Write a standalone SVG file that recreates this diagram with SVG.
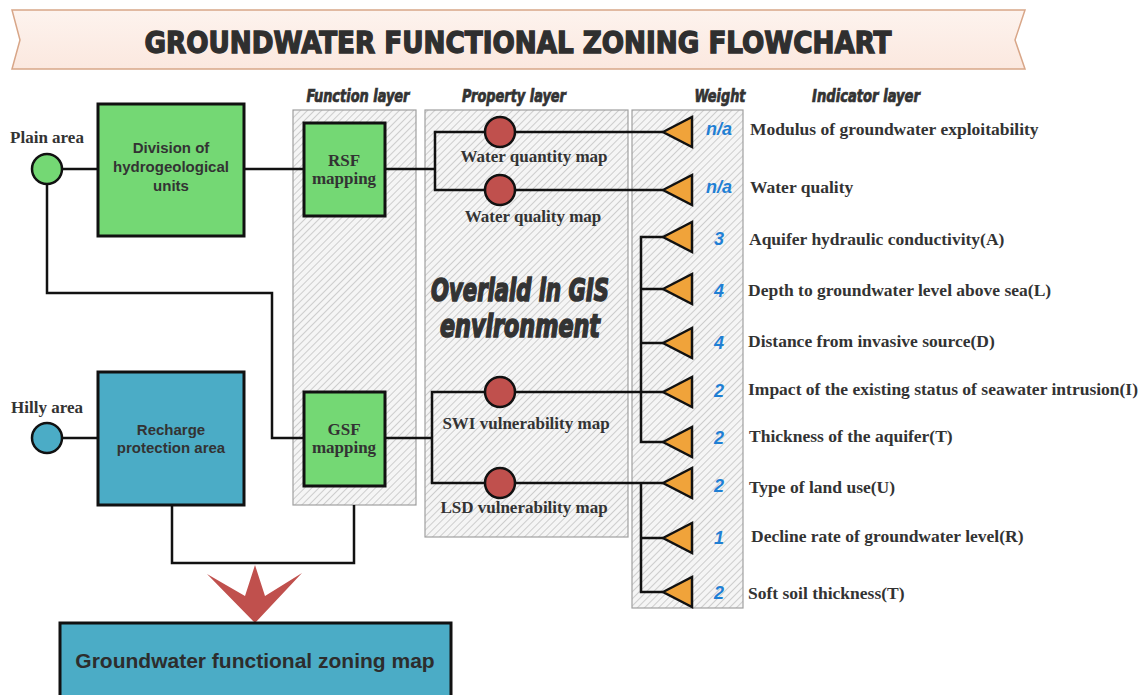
<svg xmlns="http://www.w3.org/2000/svg" width="1143" height="695" viewBox="0 0 1143 695">
<defs>
  <pattern id="hatch" width="5" height="5" patternUnits="userSpaceOnUse" patternTransform="rotate(45)">
    <rect width="5" height="5" fill="#f5f5f5"/>
    <line x1="0" y1="0" x2="0" y2="5" stroke="#a6a6a6" stroke-width="1"/>
  </pattern>
  <linearGradient id="ban" x1="0" y1="0" x2="0" y2="1">
    <stop offset="0" stop-color="#fdf3ee"/>
    <stop offset="1" stop-color="#fbe8df"/>
  </linearGradient>
</defs>
<style>
  .hatchbox{fill:url(#hatch);stroke:#a0a0a0;stroke-width:1.2}
  .box{stroke:#111;stroke-width:3}
  .green{fill:#74d874}
  .blue{fill:#4bacc6}
  .red{fill:#c0504d;stroke:#111;stroke-width:2.5}
  .tri{fill:#f0a33a;stroke:#111;stroke-width:2.5;stroke-linejoin:miter}
  .ln{fill:none;stroke:#111;stroke-width:2.5}
  .hdr{font-family:"DejaVu Sans Condensed","Liberation Sans",sans-serif;font-weight:bold;font-style:italic;font-size:17px;fill:#333;stroke:#333;stroke-width:0.7}
  .ser{font-family:"Liberation Serif",serif;font-weight:bold;font-size:17px;fill:#333}
  .ind{font-size:17.5px}
  .sans{font-family:"Liberation Sans",Arial,sans-serif;font-weight:bold;font-size:15px;fill:#333}
  .wt{font-family:"Liberation Sans",Arial,sans-serif;font-weight:bold;font-style:italic;font-size:18px;fill:#1f7fd4}
  .big{font-family:"DejaVu Sans Condensed","Liberation Sans",sans-serif;font-weight:900;font-style:italic;font-size:32px;fill:#333;stroke:#333;stroke-width:1.6}
</style>

<g id="title">
  <path d="M12,10 L1025,10 L1015,40 L1025,69 L12,69 L20,40 Z" fill="url(#ban)" stroke="#d8a688" stroke-width="1.5"/>
  <text x="518" y="53" text-anchor="middle" font-family="'DejaVu Sans Condensed','Liberation Sans',sans-serif" font-weight="900" font-size="30" fill="#2f2f2f" stroke="#2f2f2f" stroke-width="1.3" textLength="747" lengthAdjust="spacingAndGlyphs">GROUNDWATER FUNCTIONAL ZONING FLOWCHART</text>
</g>

<g id="headers">
  <text class="hdr" x="358" y="102" text-anchor="middle" textLength="103" lengthAdjust="spacingAndGlyphs">Function layer</text>
  <text class="hdr" x="514" y="102" text-anchor="middle" textLength="104" lengthAdjust="spacingAndGlyphs">Property layer</text>
  <text class="hdr" x="720" y="102" text-anchor="middle" textLength="51" lengthAdjust="spacingAndGlyphs">Weight</text>
  <text class="hdr" x="866" y="102" text-anchor="middle" textLength="108" lengthAdjust="spacingAndGlyphs">Indicator layer</text>
</g>

<g id="layer-boxes">
  <rect id="function-layer" class="hatchbox" x="293" y="110" width="123" height="395"/>
  <rect id="property-layer" class="hatchbox" x="425" y="110" width="203" height="427"/>
  <rect id="weight-layer" class="hatchbox" x="632" y="110" width="111" height="498"/>
</g>

<g id="overlay-label">
  <text class="big" x="520" y="301" text-anchor="middle" textLength="178" lengthAdjust="spacingAndGlyphs">Overlaid in GIS</text>
  <text class="big" x="520" y="337" text-anchor="middle" textLength="160" lengthAdjust="spacingAndGlyphs">environment</text>
</g>

<g id="connectors">
  <path class="ln" d="M62,169 H98"/>
  <path class="ln" d="M244,169 H304"/>
  <path class="ln" d="M385,169 H435"/>
  <path class="ln" d="M663,132 H435 V190 H663"/>
  <path class="ln" d="M47,184 V293 H272 V438 H304"/>
  <path class="ln" d="M62,438 H98"/>
  <path class="ln" d="M385,438 H432"/>
  <path class="ln" d="M663,392 H432 V483 H663"/>
  <path class="ln" d="M663,237 H641 V442 H663"/>
  <path class="ln" d="M641,289 H663 M641,343 H663"/>
  <path class="ln" d="M641,483 V592 H663 M641,538 H663"/>
  <path class="ln" d="M172,505 V563 H354 V505"/>
</g>

<g id="plain-area">
  <circle cx="47" cy="169" r="15" class="green" stroke="#111" stroke-width="2.5"/>
  <text class="ser" x="47" y="143" text-anchor="middle">Plain area</text>
</g>
<g id="hilly-area">
  <circle cx="47" cy="438" r="15" class="blue" stroke="#111" stroke-width="2.5"/>
  <text class="ser" x="47" y="413" text-anchor="middle">Hilly area</text>
</g>

<g id="division">
  <rect class="box green" x="98" y="104" width="146" height="132"/>
  <text class="sans" x="171" y="153" text-anchor="middle">Division of</text>
  <text class="sans" x="171" y="172" text-anchor="middle">hydrogeological</text>
  <text class="sans" x="171" y="191" text-anchor="middle">units</text>
</g>
<g id="recharge">
  <rect class="box blue" x="98" y="372" width="146" height="133"/>
  <text class="sans" x="171" y="435" text-anchor="middle">Recharge</text>
  <text class="sans" x="171" y="453" text-anchor="middle">protection area</text>
</g>

<g id="rsf">
  <rect class="box green" x="304" y="123" width="81" height="93"/>
  <text class="ser" x="344" y="166" text-anchor="middle" font-size="15">RSF</text>
  <text class="ser" x="344" y="184" text-anchor="middle" font-size="15">mapping</text>
</g>
<g id="gsf">
  <rect class="box green" x="304" y="392" width="81" height="94"/>
  <text class="ser" x="344" y="435" text-anchor="middle" font-size="15">GSF</text>
  <text class="ser" x="344" y="453" text-anchor="middle" font-size="15">mapping</text>
</g>

<g id="water-quantity-map">
  <circle class="red" cx="500" cy="132" r="15"/>
  <text class="ser" x="534" y="162" text-anchor="middle">Water quantity map</text>
</g>
<g id="water-quality-map">
  <circle class="red" cx="500" cy="190" r="15"/>
  <text class="ser" x="533" y="222" text-anchor="middle">Water quality map</text>
</g>
<g id="swi-map">
  <circle class="red" cx="500" cy="392" r="15"/>
  <text class="ser" x="526" y="429" text-anchor="middle">SWI vulnerability map</text>
</g>
<g id="lsd-map">
  <circle class="red" cx="500" cy="483" r="15"/>
  <text class="ser" x="524" y="513" text-anchor="middle">LSD vulnerability map</text>
</g>

<g id="indicators">
  <g id="ind1"><polygon class="tri" points="663,132 692,117 692,147"/><text class="wt" x="719" y="135" text-anchor="middle">n/a</text><text class="ser ind" x="750" y="135">Modulus of groundwater exploitability</text></g>
  <g id="ind2"><polygon class="tri" points="663,190 692,175 692,205"/><text class="wt" x="719" y="193" text-anchor="middle">n/a</text><text class="ser ind" x="750" y="193">Water quality</text></g>
  <g id="ind3"><polygon class="tri" points="663,237 692,222 692,252"/><text class="wt" x="719" y="245" text-anchor="middle">3</text><text class="ser ind" x="749" y="245">Aquifer hydraulic conductivity(A)</text></g>
  <g id="ind4"><polygon class="tri" points="663,289 692,274 692,304"/><text class="wt" x="719" y="297" text-anchor="middle">4</text><text class="ser ind" x="748" y="296">Depth to groundwater level above sea(L)</text></g>
  <g id="ind5"><polygon class="tri" points="663,343 692,328 692,358"/><text class="wt" x="719" y="349" text-anchor="middle">4</text><text class="ser ind" x="748" y="347">Distance from invasive source(D)</text></g>
  <g id="ind6"><polygon class="tri" points="663,392 692,377 692,407"/><text class="wt" x="719" y="397" text-anchor="middle">2</text><text class="ser ind" x="748" y="395">Impact of the existing status of seawater intrusion(I)</text></g>
  <g id="ind7"><polygon class="tri" points="663,442 692,427 692,457"/><text class="wt" x="719" y="444" text-anchor="middle">2</text><text class="ser ind" x="749" y="442">Thickness of the aquifer(T)</text></g>
  <g id="ind8"><polygon class="tri" points="663,483 692,468 692,498"/><text class="wt" x="719" y="492" text-anchor="middle">2</text><text class="ser ind" x="749" y="493">Type of land use(U)</text></g>
  <g id="ind9"><polygon class="tri" points="663,538 692,523 692,553"/><text class="wt" x="719" y="544" text-anchor="middle">1</text><text class="ser ind" x="751" y="542">Decline rate of groundwater level(R)</text></g>
  <g id="ind10"><polygon class="tri" points="663,592 692,577 692,607"/><text class="wt" x="719" y="599" text-anchor="middle">2</text><text class="ser ind" x="748" y="599">Soft soil thickness(T)</text></g>
</g>

<g id="arrow">
  <polygon points="255,565 265,596 302,573 255,623 207,574 245,596" fill="#c0504d"/>
</g>

<g id="zoning-map">
  <rect class="box blue" x="60" y="623" width="391" height="80"/>
  <text x="255" y="668" text-anchor="middle" font-family="'Liberation Sans',Arial,sans-serif" font-weight="bold" font-size="21" fill="#2d2d2d">Groundwater functional zoning map</text>
</g>
</svg>
